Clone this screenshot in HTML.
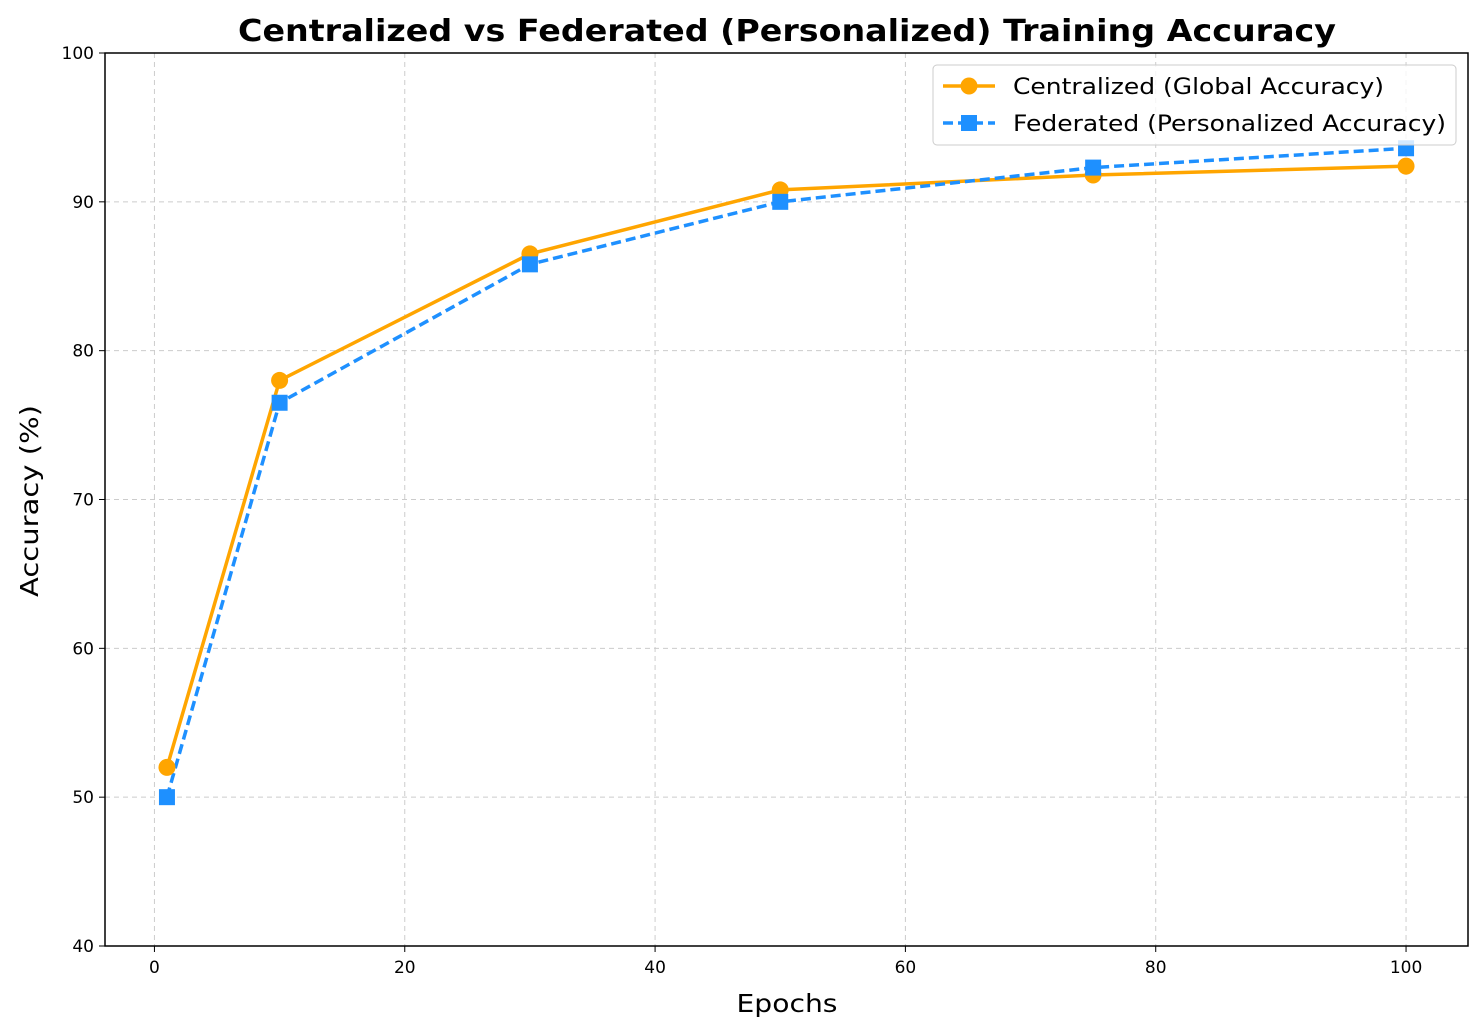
<!DOCTYPE html>
<html><head><meta charset="utf-8"><style>
body{margin:0;background:#fff;}
svg{display:block;font-family:"DejaVu Sans","Liberation Sans",sans-serif;}
</style></head><body>
<svg id="chart" width="1484" height="1032">
<text x="787" y="41" text-anchor="middle" font-size="30" font-weight="bold" textLength="1098" lengthAdjust="spacingAndGlyphs">Centralized vs Federated (Personalized) Training Accuracy</text>
<g id="grid"></g><g id="ticks"></g><g id="series"></g>
<rect x="105" y="53" width="1363" height="893" fill="none" stroke="#000" stroke-width="1.5"/>
<text x="787" y="1012" text-anchor="middle" font-size="25" textLength="101" lengthAdjust="spacingAndGlyphs">Epochs</text>
<text transform="translate(38,501) rotate(-90)" text-anchor="middle" font-size="25" textLength="192" lengthAdjust="spacingAndGlyphs">Accuracy (%)</text>
<g>
<rect x="933" y="65" width="523" height="80" rx="4" fill="#fff" fill-opacity="0.8" stroke="#ccc"/>
<line x1="943" y1="86" x2="995" y2="86" stroke="#FFA500" stroke-width="3.5"/>
<circle cx="969" cy="86" r="8.5" fill="#FFA500"/>
<text x="1013" y="94" font-size="22" textLength="371" lengthAdjust="spacingAndGlyphs">Centralized (Global Accuracy)</text>
<line x1="943" y1="123" x2="995" y2="123" stroke="#1E90FF" stroke-width="3.5" stroke-dasharray="10,5"/>
<rect x="961" y="115" width="16" height="16" fill="#1E90FF"/>
<text x="1013" y="131" font-size="22" textLength="433" lengthAdjust="spacingAndGlyphs">Federated (Personalized Accuracy)</text>
</g>
</svg>
<script>
const epochs=[1,10,30,50,75,100];
const centralized=[52,78,86.5,90.8,91.8,92.4];
const federated=[50,76.5,85.8,90,92.3,93.6];
const xTicks=[0,20,40,60,80,100];
const yTicks=[40,50,60,70,80,90,100];
const NS="http://www.w3.org/2000/svg";
const L=105,R=1468,T=53,B=946,xmin=-3.95,xmax=104.95,ymin=40,ymax=100;
const X=v=>L+(v-xmin)/(xmax-xmin)*(R-L);
const Y=v=>B-(v-ymin)/(ymax-ymin)*(B-T);
function mk(tag,attrs,parent){const e=document.createElementNS(NS,tag);for(const k in attrs)e.setAttribute(k,attrs[k]);document.getElementById(parent).appendChild(e);return e;}
xTicks.forEach(t=>{
 const g=mk('line',{x1:X(t),x2:X(t),y1:T,y2:B,stroke:'#ccc','stroke-dasharray':'5,4'},'grid');
 
 
 mk('line',{x1:X(t),x2:X(t),y1:B,y2:B+6,stroke:'#000'},'ticks');
 const tx=mk('text',{x:X(t),y:B+27,'text-anchor':'middle','font-size':'17'},'ticks');tx.textContent=t;
 
 
});
yTicks.forEach(t=>{
 const g=mk('line',{x1:L,x2:R,y1:Y(t),y2:Y(t),stroke:'#ccc','stroke-dasharray':'5,4'},'grid');
 
 
 mk('line',{x1:L-6,x2:L,y1:Y(t),y2:Y(t),stroke:'#000'},'ticks');
 const tx=mk('text',{x:L-11,y:Y(t)+6,'text-anchor':'end','font-size':'17'},'ticks');tx.textContent=t;
 
 
});
const pc=epochs.map((e,i)=>X(e)+','+Y(centralized[i])).join(' ');
const l1=mk('polyline',{points:pc,fill:'none',stroke:'#FFA500','stroke-width':3.5},'series');


const pf=epochs.map((e,i)=>X(e)+','+Y(federated[i])).join(' ');
const l2=mk('polyline',{points:pf,fill:'none',stroke:'#1E90FF','stroke-width':3.5,'stroke-dasharray':'10,5'},'series');


epochs.forEach((e,i)=>{
 const c=mk('circle',{cx:X(e),cy:Y(centralized[i]),r:8.5,fill:'#FFA500'},'series');
 
 
});
epochs.forEach((e,i)=>{
 const s=mk('rect',{x:X(e)-8,y:Y(federated[i])-8,width:16,height:16,fill:'#1E90FF'},'series');
 
 
});
</script>
</body></html>
